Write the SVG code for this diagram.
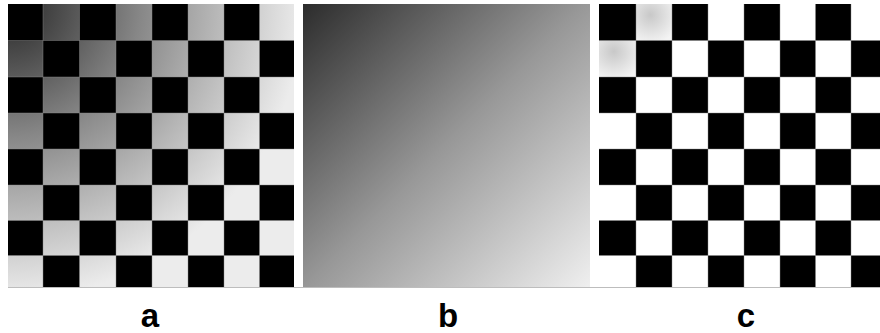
<svg xmlns="http://www.w3.org/2000/svg" width="880" height="333" viewBox="0 0 880 333">
  <defs>
    <radialGradient id="ga" gradientUnits="userSpaceOnUse" cx="8" cy="4" r="295">
      <stop offset="0" stop-color="#262626"/>
      <stop offset="0.2" stop-color="#505050"/>
      <stop offset="0.45" stop-color="#878787"/>
      <stop offset="0.7" stop-color="#b6b6b6"/>
      <stop offset="1" stop-color="#ececec"/>
    </radialGradient>
    <linearGradient id="gb" gradientUnits="userSpaceOnUse" x1="303" y1="4" x2="590" y2="287">
      <stop offset="0" stop-color="#2c2c2c"/>
      <stop offset="0.5" stop-color="#989898"/>
      <stop offset="1" stop-color="#efefef"/>
    </linearGradient>
    <radialGradient id="gs" cx="0.4" cy="0.3" r="0.8">
      <stop offset="0" stop-color="#c8c8c8"/>
      <stop offset="1" stop-color="#f4f4f4"/>
    </radialGradient>
    <style>
      .blk { fill: #000000; }
      .grid { stroke: #8c8c8c; stroke-width: 0.8; opacity: 0.55; fill: none; }
      .lbl { font-family: "Liberation Sans", Arial, sans-serif; font-weight: bold; font-size: 33px; text-anchor: middle; fill: #000000; }
    </style>
  </defs>
  <rect width="880" height="333" fill="#ffffff"/>

  <g id="panel-a">
    <rect x="8" y="4" width="286" height="283" fill="url(#ga)"/>
    <g class="blk">
      <!-- row 0 -->
      <rect x="8" y="4" width="35" height="36.5"/><rect x="79.5" y="4" width="36.5" height="36.5"/><rect x="152" y="4" width="36" height="36.5"/><rect x="224" y="4" width="35.5" height="36.5"/>
      <!-- row 1 -->
      <rect x="43" y="40.5" width="36.5" height="36.5"/><rect x="116" y="40.5" width="36" height="36.5"/><rect x="188" y="40.5" width="36" height="36.5"/><rect x="259.5" y="40.5" width="34.5" height="36.5"/>
      <!-- row 2 -->
      <rect x="8" y="77" width="35" height="36"/><rect x="79.5" y="77" width="36.5" height="36"/><rect x="152" y="77" width="36" height="36"/><rect x="224" y="77" width="35.5" height="36"/>
      <!-- row 3 -->
      <rect x="43" y="113" width="36.5" height="36"/><rect x="116" y="113" width="36" height="36"/><rect x="188" y="113" width="36" height="36"/><rect x="259.5" y="113" width="34.5" height="36"/>
      <!-- row 4 -->
      <rect x="8" y="149" width="35" height="36"/><rect x="79.5" y="149" width="36.5" height="36"/><rect x="152" y="149" width="36" height="36"/><rect x="224" y="149" width="35.5" height="36"/>
      <!-- row 5 -->
      <rect x="43" y="185" width="36.5" height="35.5"/><rect x="116" y="185" width="36" height="35.5"/><rect x="188" y="185" width="36" height="35.5"/><rect x="259.5" y="185" width="34.5" height="35.5"/>
      <!-- row 6 -->
      <rect x="8" y="220.5" width="35" height="35"/><rect x="79.5" y="220.5" width="36.5" height="35"/><rect x="152" y="220.5" width="36" height="35"/><rect x="224" y="220.5" width="35.5" height="35"/>
      <!-- row 7 -->
      <rect x="43" y="255.5" width="36.5" height="31.5"/><rect x="116" y="255.5" width="36" height="31.5"/><rect x="188" y="255.5" width="36" height="31.5"/><rect x="259.5" y="255.5" width="34.5" height="31.5"/>
    </g>
    <path class="grid" d="M43 4V287M79.5 4V287M116 4V287M152 4V287M188 4V287M224 4V287M259.5 4V287M8 40.5H294M8 77H294M8 113H294M8 149H294M8 185H294M8 220.5H294M8 255.5H294"/>
  </g>

  <g id="panel-b">
    <rect x="303" y="4" width="287" height="283" fill="url(#gb)"/>
  </g>

  <g id="panel-c">
    <rect x="599" y="4" width="281" height="283" fill="#ffffff"/>
    <rect x="636" y="4" width="36" height="36.5" fill="url(#gs)"/>
    <rect x="599" y="40.5" width="37" height="36.5" fill="url(#gs)"/>
    <g class="blk">
      <!-- row 0 -->
      <rect x="599" y="4" width="37" height="36.5"/><rect x="672" y="4" width="36" height="36.5"/><rect x="744" y="4" width="36" height="36.5"/><rect x="815.5" y="4" width="35.5" height="36.5"/>
      <!-- row 1 -->
      <rect x="636" y="40.5" width="36" height="36.5"/><rect x="708" y="40.5" width="36" height="36.5"/><rect x="780" y="40.5" width="35.5" height="36.5"/><rect x="851" y="40.5" width="29" height="36.5"/>
      <!-- row 2 -->
      <rect x="599" y="77" width="37" height="36"/><rect x="672" y="77" width="36" height="36"/><rect x="744" y="77" width="36" height="36"/><rect x="815.5" y="77" width="35.5" height="36"/>
      <!-- row 3 -->
      <rect x="636" y="113" width="36" height="36"/><rect x="708" y="113" width="36" height="36"/><rect x="780" y="113" width="35.5" height="36"/><rect x="851" y="113" width="29" height="36"/>
      <!-- row 4 -->
      <rect x="599" y="149" width="37" height="36"/><rect x="672" y="149" width="36" height="36"/><rect x="744" y="149" width="36" height="36"/><rect x="815.5" y="149" width="35.5" height="36"/>
      <!-- row 5 -->
      <rect x="636" y="185" width="36" height="35.5"/><rect x="708" y="185" width="36" height="35.5"/><rect x="780" y="185" width="35.5" height="35.5"/><rect x="851" y="185" width="29" height="35.5"/>
      <!-- row 6 -->
      <rect x="599" y="220.5" width="37" height="35"/><rect x="672" y="220.5" width="36" height="35"/><rect x="744" y="220.5" width="36" height="35"/><rect x="815.5" y="220.5" width="35.5" height="35"/>
      <!-- row 7 -->
      <rect x="636" y="255.5" width="36" height="31.5"/><rect x="708" y="255.5" width="36" height="31.5"/><rect x="780" y="255.5" width="35.5" height="31.5"/><rect x="851" y="255.5" width="29" height="31.5"/>
    </g>
    <path class="grid" d="M636 4V287M672 4V287M708 4V287M744 4V287M780 4V287M815.5 4V287M851 4V287M599 40.5H880M599 77H880M599 113H880M599 149H880M599 185H880M599 220.5H880M599 255.5H880"/>
  </g>

  <line x1="8" y1="287.5" x2="880" y2="287.5" stroke="#bdbdbd" stroke-width="1"/>

  <g id="labels">
    <text class="lbl" x="150" y="327">a</text>
    <text class="lbl" x="448" y="327">b</text>
    <text class="lbl" x="746" y="327">c</text>
  </g>
</svg>
